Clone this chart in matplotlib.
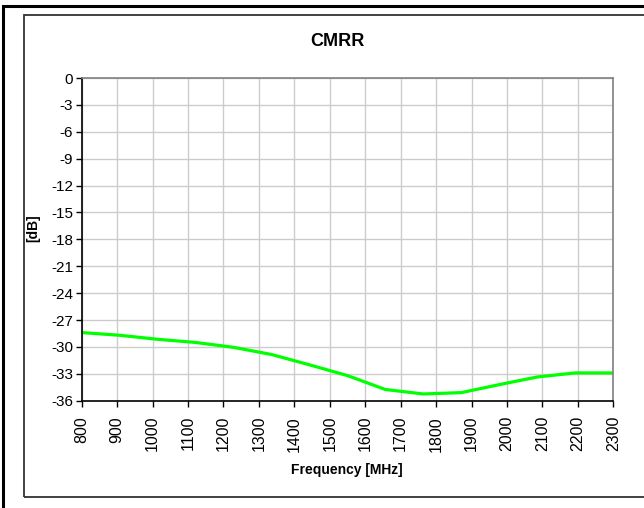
import matplotlib.pyplot as plt
from matplotlib.patches import Rectangle

plt.rcParams['font.family'] = ['Liberation Sans', 'DejaVu Sans']

# data
freq = [800, 907, 1014, 1121, 1229, 1336, 1443, 1550, 1657, 1764, 1871, 1979, 2086, 2193, 2300]
cmrr = [-28.4, -28.7, -29.15, -29.5, -30.05, -30.85, -32.0, -33.2, -34.75, -35.25, -35.1, -34.2, -33.35, -32.9, -32.9]
x_ticks = list(range(800, 2301, 100))
y_ticks = list(range(-36, 1, 3))

W, H = 644, 508
fig = plt.figure(figsize=(W / 100, H / 100), dpi=100)

# outer and inner frames (chart area is cropped on the right / bottom)
fig.patches.append(Rectangle((3 / W, -0.1), 1.2, 1.1 - 6.5 / H, transform=fig.transFigure,
                             fill=False, edgecolor='black', linewidth=2.2, figure=fig))
fig.patches.append(Rectangle((24 / W, 1 - 497 / H), 1.2, (497 - 15) / H, transform=fig.transFigure,
                             fill=False, edgecolor='#333333', linewidth=1.3, figure=fig))

ax = fig.add_axes([81.7 / W, 1 - 400.7 / H, (613.3 - 81.7) / W, (400.7 - 78) / H])

ax.plot(freq, cmrr, color='#00ff00', linewidth=2.3, solid_joinstyle='round')

ax.set_xlim(800, 2300)
ax.set_ylim(-36, 0)
ax.set_xticks(x_ticks)
ax.set_yticks(y_ticks)
ax.set_xticklabels([str(v) for v in x_ticks], rotation=90, fontsize=11.5)
ax.set_yticklabels([str(v) for v in y_ticks], fontsize=11)
ax.tick_params(axis='x', length=4, width=1, pad=7, color='black')
ax.tick_params(axis='y', length=4, width=1, pad=2, color='black')
ax.grid(True, color='#cccccc', linewidth=1)
ax.set_axisbelow(True)

for side in ['top', 'right']:
    ax.spines[side].set_color('#808080')
    ax.spines[side].set_linewidth(1.2)
for side in ['left', 'bottom']:
    ax.spines[side].set_color('black')
    ax.spines[side].set_linewidth(1.2)

fig.text(337 / W, 1 - 42 / H, 'CMRR', ha='center', va='center', fontsize=13, fontweight='bold')
fig.text(346.7 / W, 1 - 470 / H, 'Frequency [MHz]', ha='center', va='center', fontsize=10, fontweight='bold')
fig.text(33 / W, 1 - 228 / H, '[dB]', ha='center', va='center', rotation=90, fontsize=10, fontweight='bold')

fig.savefig('out.png', dpi=100)
